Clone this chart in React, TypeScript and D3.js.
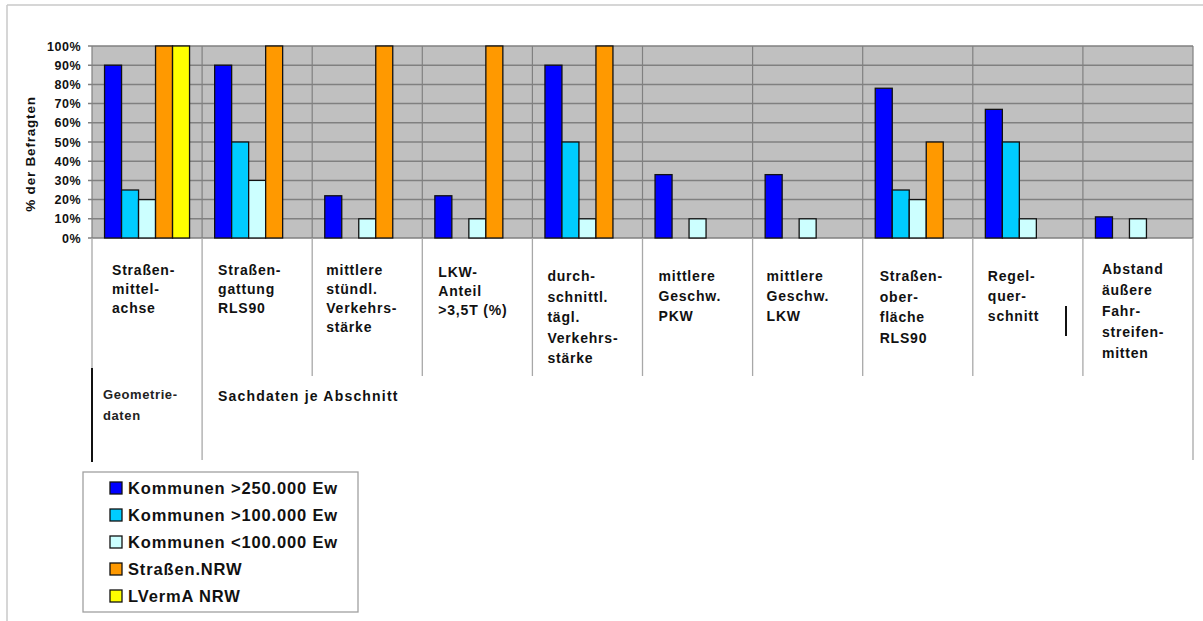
import React from "react";
import * as d3 from "d3";

// Survey: which attributes are recorded, share of respondents per group
const categories: string[][] = [
  ["Straßen-", "mittel-", "achse"],
  ["Straßen-", "gattung", "RLS90"],
  ["mittlere", "stündl.", "Verkehrs-", "stärke"],
  ["LKW-", "Anteil", ">3,5T (%)"],
  ["durch-", "schnittl.", "tägl.", "Verkehrs-", "stärke"],
  ["mittlere", "Geschw.", "PKW"],
  ["mittlere", "Geschw.", "LKW"],
  ["Straßen-", "ober-", "fläche", "RLS90"],
  ["Regel-", "quer-", "schnitt"],
  ["Abstand", "äußere", "Fahr-", "streifen-", "mitten"],
];

const seriesNames = [
  "Kommunen >250.000 Ew",
  "Kommunen >100.000 Ew",
  "Kommunen <100.000 Ew",
  "Straßen.NRW",
  "LVermA NRW",
];

const kommunenGross = [90, 90, 22, 22, 90, 33, 33, 78, 67, 11];
const kommunenMittel = [25, 50, 0, 0, 50, 0, 0, 25, 50, 0];
const kommunenKlein = [20, 30, 10, 10, 10, 10, 10, 20, 10, 10];
const strassenNRW = [100, 100, 100, 100, 100, 0, 0, 50, 0, 0];
const lvermaNRW = [100, 0, 0, 0, 0, 0, 0, 0, 0, 0];

const yTicks = [0, 10, 20, 30, 40, 50, 60, 70, 80, 90, 100];

const groupLabels = ["Geometrie-", "daten"];
const sectionLabel = "Sachdaten je Abschnitt";

const seriesValues = [kommunenGross, kommunenMittel, kommunenKlein, strassenNRW, lvermaNRW];
const seriesColors = ["#0000ff", "#00ccff", "#ccffff", "#ff9900", "#ffff00"];

// label block vertical start per category column
const labelTop = [270, 270, 270, 272, 276, 276, 276, 276, 276, 269];
const labelStep = [19, 19, 19, 19, 20.5, 20, 20, 20.5, 20, 21];
const labelDx = [20, 16, 14, 16, 15, 16, 14, 17, 15, 19];

const W = 1203;
const H = 621;
const plot = { left: 92, right: 1193, top: 46, bottom: 238 };
const font = "Liberation Sans, Arial, sans-serif";

export default function App() {
  const idx = categories.map((_, i) => String(i));
  const x = d3.scaleBand<string>().domain(idx).range([plot.left, plot.right]).padding(0);
  const bw = x.bandwidth();
  const inner = d3
    .scaleBand<number>()
    .domain(d3.range(seriesNames.length))
    .range([(bw - 85) / 2, (bw + 85) / 2]);
  const y = d3.scaleLinear().domain([0, 100]).range([plot.bottom, plot.top]);

  const boundaries = d3.range(categories.length + 1).map((i) =>
    i < categories.length ? (x(String(i)) as number) : plot.right
  );

  return (
    <div style={{ position: "absolute", left: 0, top: 0 }}>
      <svg width={W} height={H} style={{ display: "block", background: "#fff" }}>
        {/* outer frame */}
        <line x1={7} y1={5} x2={W} y2={5} stroke="#c8c8c8" strokeWidth={1.5} />
        <line x1={7} y1={5} x2={7} y2={H} stroke="#c8c8c8" strokeWidth={1.5} />

        {/* plot background */}
        <rect
          x={plot.left}
          y={plot.top}
          width={plot.right - plot.left}
          height={plot.bottom - plot.top}
          fill="#c0c0c0"
        />
        {/* horizontal grid + tick marks */}
        {yTicks.map((t) => (
          <g key={t}>
            <line
              x1={plot.left - 4}
              x2={plot.right}
              y1={y(t)}
              y2={y(t)}
              stroke="#808080"
              strokeWidth={1.5}
            />
            <text
              x={81}
              y={y(t)}
              dy="0.36em"
              textAnchor="end"
              fontFamily={font}
              fontWeight="bold"
              fontSize={12.5}
              letterSpacing={0.5}
              fill="#111"
            >
              {t}%
            </text>
          </g>
        ))}
        {/* category separators inside plot */}
        {boundaries.map((b, i) => (
          <line
            key={i}
            x1={b}
            x2={b}
            y1={plot.top}
            y2={plot.bottom}
            stroke="#808080"
            strokeWidth={1.2}
          />
        ))}

        {/* bars */}
        {seriesValues.map((vals, s) =>
          vals.map((v, i) =>
            v > 0 ? (
              <rect
                key={`${s}-${i}`}
                x={(x(String(i)) as number) + (inner(s) as number)}
                y={y(v)}
                width={inner.bandwidth()}
                height={y(0) - y(v)}
                fill={seriesColors[s]}
                stroke="#111"
                strokeWidth={1.3}
              />
            ) : null
          )
        )}

        {/* y-axis title */}
        <text
          transform="translate(35,154) rotate(-90)"
          textAnchor="middle"
          fontFamily={font}
          fontWeight="bold"
          fontSize={13.5}
          letterSpacing={0.8}
          fill="#111"
        >
          % der Befragten
        </text>

        {/* category label table lines */}
        {boundaries.map((b, i) => {
          const long = i === 0 || i === 1 || i === categories.length;
          return (
            <line
              key={`sep-${i}`}
              x1={b}
              x2={b}
              y1={plot.bottom}
              y2={long ? 460 : 376}
              stroke="#a8a8a8"
              strokeWidth={1.3}
            />
          );
        })}
        <line x1={plot.left} x2={plot.left} y1={368} y2={462} stroke="#111" strokeWidth={2} />
        <line x1={1066} x2={1066} y1={306} y2={336} stroke="#111" strokeWidth={2} />

        {/* category labels */}
        {categories.map((lines, i) => (
          <text
            key={`lab-${i}`}
            fontFamily={font}
            fontWeight="bold"
            fontSize={14}
            fill="#111"
            letterSpacing={0.8}
          >
            {lines.map((ln, k) => (
              <tspan
                key={k}
                x={(x(String(i)) as number) + labelDx[i]}
                y={labelTop[i] + 5 + k * labelStep[i]}
              >
                {ln}
              </tspan>
            ))}
          </text>
        ))}

        {/* group labels */}
        <text fontFamily={font} fontWeight="bold" fontSize={13} letterSpacing={0.6} fill="#222">
          {groupLabels.map((ln, k) => (
            <tspan key={k} x={103} y={399 + k * 21}>
              {ln}
            </tspan>
          ))}
        </text>
        <text
          x={218}
          y={401}
          fontFamily={font}
          fontWeight="bold"
          fontSize={14}
          fill="#111"
          letterSpacing={1.2}
        >
          {sectionLabel}
        </text>

        {/* legend */}
        <rect x={83} y={472} width={275} height={140} fill="#fff" stroke="#a0a0a0" strokeWidth={1.3} />
        {seriesNames.map((name, s) => {
          const cy = 488 + s * 27;
          return (
            <g key={name}>
              <rect
                x={110}
                y={cy - 6}
                width={12}
                height={12}
                fill={seriesColors[s]}
                stroke="#111"
                strokeWidth={1.3}
              />
              <text
                x={128}
                y={cy}
                dy="0.36em"
                fontFamily={font}
                fontWeight="bold"
                fontSize={16.5}
                letterSpacing={0.85}
                fill="#111"
              >
                {name}
              </text>
            </g>
          );
        })}
      </svg>
    </div>
  );
}
